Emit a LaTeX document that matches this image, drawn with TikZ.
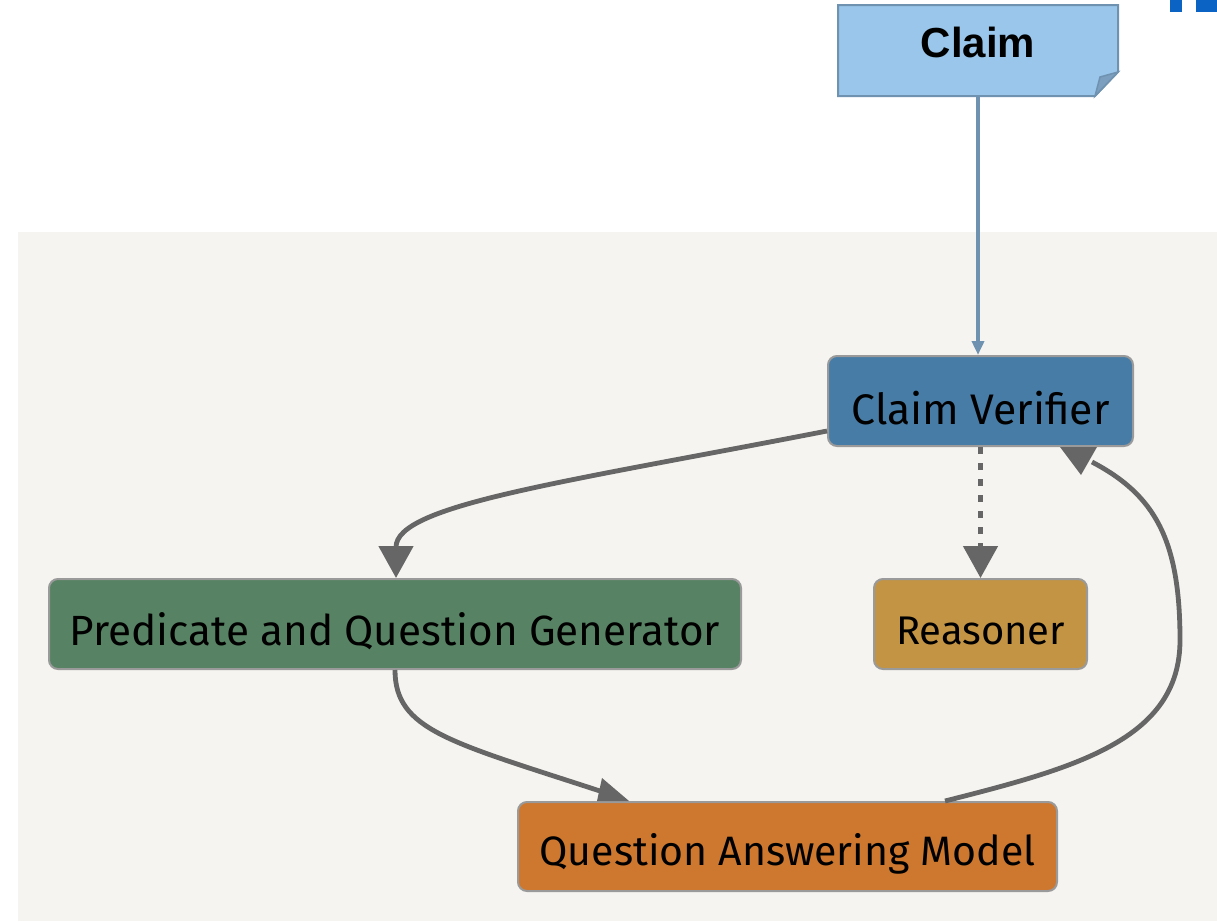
\documentclass[tikz,border=0pt]{standalone}
\usepackage{fontspec}
\setmainfont{Liberation Sans}
\newfontfamily\boxfont{Fira Sans}
\usepackage{graphicx}
\usetikzlibrary{arrows.meta,calc}
\definecolor{panel}{HTML}{F5F4F0}
\definecolor{notefill}{HTML}{99C6EA}
\definecolor{noteline}{HTML}{6F92B0}
\definecolor{notefold}{HTML}{7C9FC0}
\definecolor{cvfill}{HTML}{477CA6}
\definecolor{pqgfill}{HTML}{578263}
\definecolor{reafill}{HTML}{C39443}
\definecolor{qamfill}{HTML}{CD772F}
\definecolor{boxline}{HTML}{9A9A9A}
\definecolor{edgegray}{HTML}{666666}
\definecolor{topblue}{HTML}{0B63C4}
\newcommand\fitw[2]{\raisebox{-7pt}[\height][\depth]{\resizebox{#1pt}{!}{\boxfont #2}}}
\tikzset{
  procbox/.style={rectangle, rounded corners=9pt, draw=boxline, line width=2pt, inner sep=0pt, text=black},
  edge/.style={draw=edgegray, line width=4.8pt},
  bigtip/.style={-{Triangle[length=32pt,width=34pt]}},
  tipfill/.style={fill=edgegray, draw=none},
}
\begin{document}
\begin{tikzpicture}[x=1pt,y=-1pt]
\useasboundingbox (0,0) rectangle (1217,921);
% panel
\fill[panel] (18,232) rectangle (1217,921);
% top-right fragment
\fill[topblue] (1170,0) rectangle (1182,12);
\fill[topblue] (1196,0) rectangle (1217,12);
% claim note
\filldraw[fill=notefill, draw=noteline, line width=2pt]
  (838,5) -- (1118,5) -- (1118,72) -- (1095,96) -- (838,96) -- cycle;
\filldraw[fill=notefold, draw=noteline, line width=1.5pt]
  (1118,72) -- (1100,77) -- (1095,96) -- cycle;
\node[inner sep=0pt, minimum width=280pt, minimum height=91pt] (claim) at (978,50.5) {};
\node[inner sep=0pt, font=\fontsize{42}{48}\selectfont\bfseries] (claimtext) at (978,42) {Claim};
% process boxes
\node[procbox, fill=cvfill, minimum width=305pt, minimum height=90pt] (cv) at (980.5,401) {\fitw{258}{Claim Verifier}};
\node[procbox, fill=reafill, minimum width=213pt, minimum height=90pt] (rea) at (980.5,624) {\fitw{169}{Reasoner}};
\node[procbox, fill=pqgfill, minimum width=692pt, minimum height=90pt] (pqg) at (395,624) {\fitw{650}{Predicate and Question Generator}};
\node[procbox, fill=qamfill, minimum width=539pt, minimum height=89pt] (qam) at (787.5,846.5) {\fitw{496}{Question Answering Model}};
% claim -> verifier
\draw[draw=noteline, line width=3.5pt, -{Triangle[length=14pt,width=12pt]}] (claim.south) -- (claim.south |- cv.north);
% verifier -> reasoner (dotted)
\draw[edge, dash pattern=on 7pt off 9pt, bigtip] (cv.south) -- (rea.north);
% verifier -> predicate generator
\draw[edge, bigtip] ([yshift=-30pt]cv.west) .. controls (560,483) and (396,505) .. ([xshift=1pt]pqg.north);
% predicate generator -> QA model
\coordinate (qamin) at (600,791);
\draw[edge] (pqg.south) .. controls (395,730) and (450,742) .. (qamin);
\fill[tipfill] ([xshift=-190.5pt]qam.north) -- ([xshift=-158.5pt]qam.north) -- (602,778) -- cycle;
% QA model -> verifier
\coordinate (cvin) at (1092,462);
\draw[edge] ([xshift=157.5pt]qam.north) .. controls (1075,768) and (1180,740) .. (1180,640)
  .. controls (1180,540) and (1155,495) .. (cvin);
\fill[tipfill] ([xshift=79.5pt]cv.south) -- ([xshift=116.5pt]cv.south) -- (1081,475) -- cycle;
\end{tikzpicture}
\end{document}
